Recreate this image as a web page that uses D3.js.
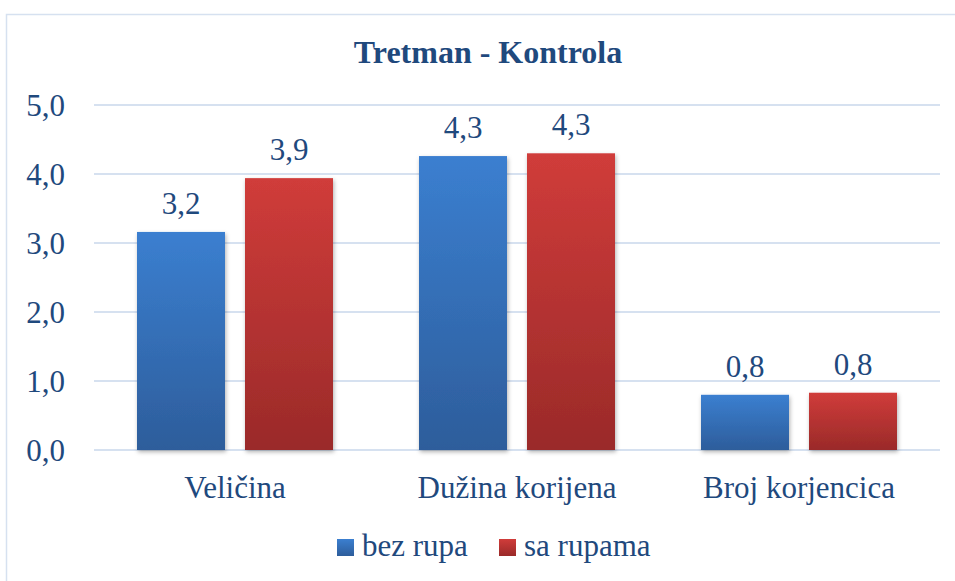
<!DOCTYPE html>
<meta charset="utf-8">
<script src="https://d3js.org/d3.v7.min.js"></script>
<style>
  body { margin: 0; background: #fff; }
  svg text { font-family: "Liberation Serif", "Times New Roman", Tinos, serif !important; }
</style>
<body>
<div id="chart"></div>
<script>

// data
var categories = ["Veličina", "Dužina korijena", "Broj korjencica"];
var seriesNames = ["bez rupa", "sa rupama"];
var bezRupa = [3.16, 4.26, 0.80];
var saRupama = [3.94, 4.30, 0.83];
var yTicks = [0, 1, 2, 3, 4, 5];

var TXT = "#1f497d";

var W = 955, H = 581;
var margin = {top: 105, left: 94},
    width = 940 - margin.left,
    height = 450 - margin.top;

var svg = d3.select("#chart").append("svg")
    .attr("width", W).attr("height", H);

// gradients + shadow
var defs = svg.append("defs");
var grads = [["gBlue", "#3b7fd0", "#2d5d9b"], ["gRed", "#d03c3a", "#9a2a29"]];
grads.forEach(function(g) {
  var lg = defs.append("linearGradient").attr("id", g[0])
      .attr("x1", 0).attr("y1", 0).attr("x2", 0).attr("y2", 1);
  lg.append("stop").attr("offset", "0%").attr("stop-color", g[1]);
  lg.append("stop").attr("offset", "100%").attr("stop-color", g[2]);
});
var f = defs.append("filter").attr("id", "shadow")
    .attr("x", "-10%").attr("y", "-10%").attr("width", "130%").attr("height", "130%");
f.append("feDropShadow").attr("dx", 1).attr("dy", 2).attr("stdDeviation", 2)
    .attr("flood-color", "#000").attr("flood-opacity", 0.3);

// chart frame
svg.append("rect")
    .attr("x", 6.5).attr("y", 14.5).attr("width", 960).attr("height", 580)
    .attr("fill", "none").attr("stroke", "#d6e1f0").attr("stroke-width", 1.5);

// title
svg.append("text")
    .attr("x", 488).attr("y", 63)
    .attr("text-anchor", "middle")
    .attr("fill", TXT)
    .style("font-size", "32px").style("font-weight", "bold")
    .text("Tretman - Kontrola");

var g = svg.append("g")
    .attr("transform", "translate(" + margin.left + "," + margin.top + ")");

var x0 = d3.scaleBand().domain(categories).range([0, width]);
var x1 = d3.scaleBand().domain(seriesNames).range([0, 196]).paddingInner(20 / 108);
var y = d3.scaleLinear().domain([0, 5]).range([height, 0]);

// gridlines
g.selectAll(".grid").data(yTicks).enter().append("line")
    .attr("x1", 0).attr("x2", width)
    .attr("y1", function(d) { return y(d); })
    .attr("y2", function(d) { return y(d); })
    .attr("stroke", "#d6e1f0").attr("stroke-width", 2);

// y axis labels
var yAxis = d3.axisLeft(y).tickValues(yTicks).tickSize(0).tickPadding(29)
    .tickFormat(function(d) { return d3.format(".1f")(d).replace(".", ","); });
g.append("g").call(yAxis)
  .attr("font-family", null)
  .call(function(s) { s.select(".domain").remove(); })
  .selectAll("text")
    .style("font-size", "31px")
    .attr("fill", TXT).attr("dy", "0.34em");

// x axis labels
var xAxis = d3.axisBottom(x0).tickSize(0).tickPadding(48);
g.append("g").attr("transform", "translate(0," + height + ")").call(xAxis)
  .attr("font-family", null)
  .call(function(s) { s.select(".domain").remove(); })
  .selectAll("text")
    .style("font-size", "31px")
    .attr("fill", TXT).attr("dy", 0);

// bars
var rows = categories.map(function(c, i) {
  return {cat: c, vals: [{s: seriesNames[0], v: bezRupa[i]}, {s: seriesNames[1], v: saRupama[i]}]};
});
var fills = {"bez rupa": "url(#gBlue)", "sa rupama": "url(#gRed)"};
var groupOffset = (x0.bandwidth() - 196) / 2;

var cg = g.selectAll(".cat").data(rows).enter().append("g")
    .attr("transform", function(d) { return "translate(" + (x0(d.cat) + groupOffset) + ",0)"; });

cg.selectAll("rect").data(function(d) { return d.vals; }).enter().append("rect")
    .attr("x", function(d) { return x1(d.s); })
    .attr("width", x1.bandwidth())
    .attr("y", function(d) { return y(d.v); })
    .attr("height", function(d) { return height - y(d.v); })
    .attr("fill", function(d) { return fills[d.s]; })
    .attr("filter", "url(#shadow)");

cg.selectAll(".lbl").data(function(d) { return d.vals; }).enter().append("text")
    .attr("x", function(d) { return x1(d.s) + x1.bandwidth() / 2; })
    .attr("y", function(d) { return y(d.v) - 18; })
    .attr("text-anchor", "middle")
    .style("font-size", "31px").attr("fill", TXT)
    .text(function(d) { return d3.format(".1f")(d.v).replace(".", ","); });

// legend
var legend = svg.append("g");
var lx = [337, 499];
seriesNames.forEach(function(s, i) {
  legend.append("rect")
      .attr("x", lx[i]).attr("y", 539).attr("width", 17).attr("height", 17)
      .attr("fill", i === 0 ? "url(#gBlue)" : "url(#gRed)");
  legend.append("text")
      .attr("x", lx[i] + 25).attr("y", 556)
      .style("font-size", "31px").attr("fill", TXT)
      .text(s);
});
</script>
</body>
